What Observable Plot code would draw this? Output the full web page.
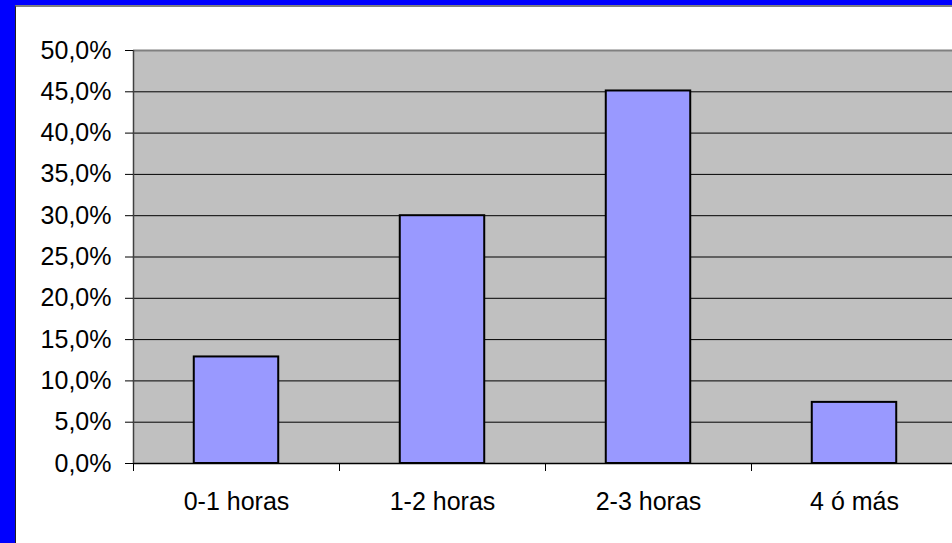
<!DOCTYPE html>
<html>
<head>
<meta charset="utf-8">
<script src="https://cdn.jsdelivr.net/npm/d3@7"></script>
<script src="https://cdn.jsdelivr.net/npm/@observablehq/plot@0.6"></script>
<style>
  html, body { margin: 0; padding: 0; width: 952px; height: 543px; overflow: hidden; background: #0000ff; }
  #outer { position: absolute; left: 0; top: 0; width: 952px; height: 543px; background: #0000ff; overflow: hidden; }
  #inner { position: absolute; left: 15px; top: 5px; width: 960px; height: 538px; background: #ffffff;
           border-left: 1px solid #202020; border-top: 2px solid #808080; overflow: hidden; }
  #chart svg { display: block; max-width: none !important; }
</style>
</head>
<body>
<div id="outer"><div id="inner"><div id="chart"></div></div></div>
<script>
const categories = ["0-1 horas", "1-2 horas", "2-3 horas", "4 ó más"];
const values = [12.9, 30.0, 45.1, 7.4];
const yTicks = [0, 5, 10, 15, 20, 25, 30, 35, 40, 45, 50];

const data = categories.map((c, i) => ({category: c, index: i, value: values[i]}));
const barFrac = 0.41;
const fmt = v => v.toFixed(1).replace(".", ",") + "%";

const chart = Plot.plot({
  width: 950,
  height: 536,
  marginLeft: 117,
  marginTop: 43,
  marginBottom: 80,
  marginRight: 9,
  style: {fontFamily: "'Liberation Sans', Arial, sans-serif", fontSize: "25px", color: "#000", background: "transparent"},
  x: {type: "linear", domain: [0, categories.length], axis: null, label: null},
  y: {domain: [0, 50], axis: null, label: null},
  marks: [
    Plot.frame({fill: "#c0c0c0", stroke: null}),
    Plot.gridY(yTicks.filter(t => t > 0 && t < 50), {stroke: "#000", strokeOpacity: 1, strokeWidth: 1}),
    Plot.ruleY([50], {stroke: "#808080", strokeWidth: 2}),
    Plot.rectY(data, {
      x1: d => d.index + (1 - barFrac) / 2,
      x2: d => d.index + (1 + barFrac) / 2,
      y1: 0,
      y2: "value",
      fill: "#9999ff",
      stroke: "#000",
      strokeWidth: 2
    }),
    Plot.ruleY([0], {stroke: "#000", strokeWidth: 1.5}),
    Plot.ruleX([0], {stroke: "#404040", strokeWidth: 1.5}),
    Plot.axisY({ticks: yTicks, tickFormat: fmt, tickSize: 8, tickPadding: 14, stroke: "#000", fill: "#000", fontSize: 25, label: null}),
    Plot.axisX({ticks: d3.range(categories.length + 1), tickFormat: () => "", tickSize: 8, stroke: "#000", label: null}),
    Plot.axisX({ticks: categories.map((c, i) => i + 0.5), tickFormat: t => categories[Math.floor(t)], tickSize: 0, tickPadding: 29, fill: "#000", fontSize: 25, label: null})
  ]
});
document.getElementById("chart").appendChild(chart);
</script>
</body>
</html>
